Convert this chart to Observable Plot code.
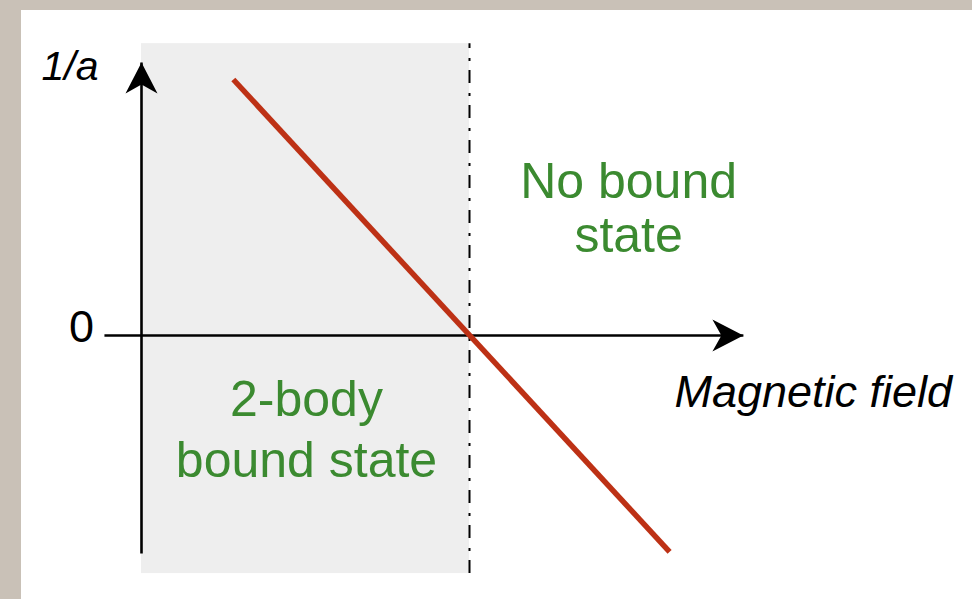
<!DOCTYPE html>
<html>
<head>
<meta charset="utf-8">
<script src="https://cdn.jsdelivr.net/npm/d3@7"></script>
<script src="https://cdn.jsdelivr.net/npm/@observablehq/plot@0.6"></script>
<style>
  html, body { margin: 0; padding: 0; background: #c9c1b7; width: 972px; height: 599px; overflow: hidden; }
  #chart { position: absolute; left: 21px; top: 10px; width: 951px; height: 589px; background: #ffffff; }
  #chart svg { display: block; }
</style>
</head>
<body>
<div id="chart"></div>
<script>
// Schematic: inverse scattering length 1/a versus magnetic field B (resonance at B = 1)
const lineField = [0.28, 1.61];          // magnetic field (arbitrary units)
const lineInvA  = [1.0, -0.845];         // 1/a (arbitrary units)
const resonanceField = 1;
const boundRegion = {x1: 0, x2: 1, y1: -0.93, y2: 1.14};
const yAxisEnds = [-0.852, 1.066];
const xAxisEnds = [-0.113, 1.835];

const labels = {
  yTitle: "1/a",
  xTitle: "Magnetic field",
  zero: "0",
  noBound: "No bound\nstate",
  bound: "2-body\nbound state"
};

const lineData = lineField.map((b, i) => ({b, inv: lineInvA[i]}));
const axes = [
  {x1: 0, y1: yAxisEnds[0], x2: 0, y2: yAxisEnds[1]},
  {x1: xAxisEnds[0], y1: 0, x2: xAxisEnds[1], y2: 0}
];
const green = "#3b8a30";
const red = "#bd3115";
const font = "'Liberation Sans', Arial, Helvetica, sans-serif";

const plot = Plot.plot({
  width: 951,
  height: 589,
  margin: 0,
  style: {background: "transparent", fontFamily: font},
  x: {domain: [-120 / 328, 831 / 328], range: [0, 951], axis: null},
  y: {domain: [-264 / 256, 325 / 256], range: [589, 0], axis: null},
  marks: [
    Plot.rect([boundRegion], {x1: "x1", x2: "x2", y1: "y1", y2: "y2", fill: "#eeeeee"}),
    Plot.ruleX([resonanceField], {y1: boundRegion.y1, y2: boundRegion.y2, stroke: "#000", strokeWidth: 2, strokeDasharray: "13 9 3 10"}),
    Plot.link(axes, {x1: "x1", y1: "y1", x2: "x2", y2: "y2", stroke: "#000", strokeWidth: 2.6}),
    Plot.line(lineData, {x: "b", y: "inv", stroke: red, strokeWidth: 5.5, strokeLinecap: "butt"}),
    Plot.text([labels.yTitle], {x: -0.131, y: 0.998, text: d => d, textAnchor: "end", lineAnchor: "bottom", fontSize: 41, fontStyle: "italic", fill: "#000"}),
    Plot.text([labels.zero], {x: -0.145, y: -0.027, text: d => d, textAnchor: "end", lineAnchor: "bottom", fontSize: 45, fill: "#000"}),
    Plot.text([labels.xTitle], {x: 1.625, y: -0.279, text: d => d, textAnchor: "start", lineAnchor: "bottom", fontSize: 45, fontStyle: "italic", fill: "#000"}),
    Plot.text([labels.noBound], {x: 1.485, y: 0.325, text: d => d, textAnchor: "middle", lineAnchor: "bottom", lineHeight: 1.088, fontSize: 50, fill: green}),
    Plot.text([labels.bound], {x: 0.503, y: -0.5535, text: d => d, textAnchor: "middle", lineAnchor: "bottom", lineHeight: 1.234, fontSize: 50, fill: green})
  ]
});

// filled arrowheads for the axes
const svg = d3.select(plot);
const defs = svg.insert("defs", ":first-child");
defs.append("marker")
  .attr("id", "axis-head")
  .attr("markerUnits", "userSpaceOnUse")
  .attr("orient", "auto")
  .attr("refX", 0).attr("refY", 0)
  .attr("markerWidth", 40).attr("markerHeight", 40)
  .attr("viewBox", "-35 -20 40 40")
  .style("overflow", "visible")
  .append("path")
  .attr("d", "M0,0L-31,-16L-22,0L-31,16Z")
  .attr("fill", "#000")
  .attr("stroke", "none");
svg.selectAll("g[aria-label='link'] path").attr("marker-end", "url(#axis-head)");

document.getElementById("chart").appendChild(plot);
</script>
</body>
</html>
